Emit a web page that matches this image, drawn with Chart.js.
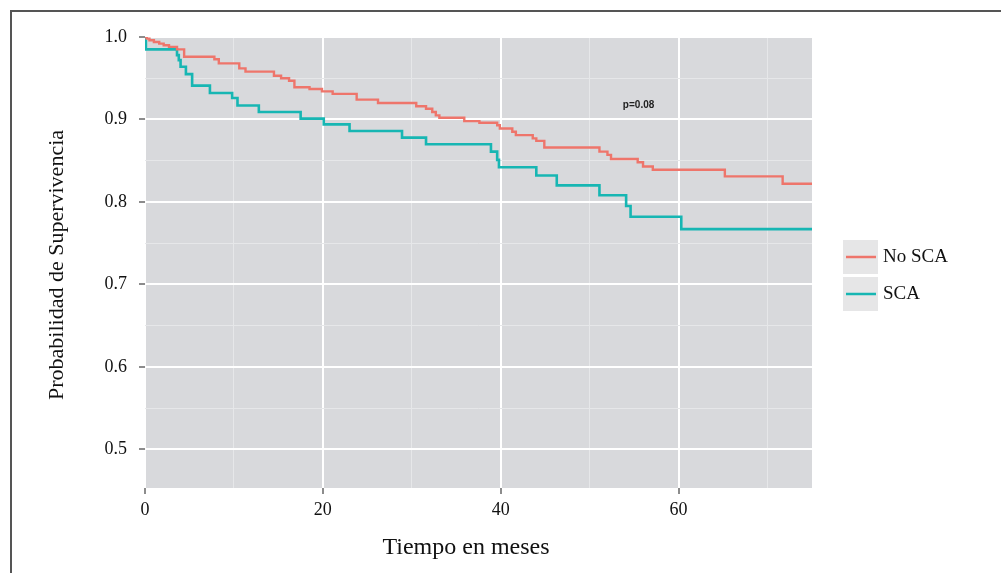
<!DOCTYPE html>
<html><head><meta charset="utf-8">
<script src="https://cdn.jsdelivr.net/npm/chart.js@4"></script>
<style>html,body{margin:0;padding:0;background:#fff}#wrap{width:1001px;height:573px;position:relative}</style>
</head><body><div id="wrap"><canvas id="c" width="1001" height="573"></canvas></div>
<script>
const seriesNames = ['No SCA', 'SCA'];
const seriesColors = ['#EE756B', '#17B6B3'];
const noScaTime = [0, 0.2, 0.5, 1.0, 1.6, 2.1, 2.7, 3.6, 4.4, 7.8, 8.3, 10.6, 11.3, 14.5, 15.3, 16.2, 16.8, 18.5, 19.9, 21.1, 23.8, 26.2, 30.5, 31.6, 32.3, 32.7, 33.1, 35.9, 37.6, 39.6, 39.9, 41.3, 41.7, 43.6, 44.0, 44.9, 51.1, 52.0, 52.4, 55.4, 56.0, 57.1, 65.2, 71.7, 75];
const noScaSurv = [1.0, 0.998, 0.996, 0.994, 0.992, 0.990, 0.988, 0.985, 0.976, 0.973, 0.968, 0.962, 0.958, 0.953, 0.950, 0.947, 0.939, 0.937, 0.934, 0.931, 0.924, 0.920, 0.916, 0.913, 0.909, 0.905, 0.902, 0.898, 0.896, 0.893, 0.889, 0.885, 0.881, 0.877, 0.874, 0.866, 0.861, 0.857, 0.852, 0.848, 0.843, 0.839, 0.831, 0.822, 0.822];
const scaTime = [0, 0.05, 0.1, 3.6, 3.8, 4.0, 4.6, 5.3, 7.3, 9.8, 10.4, 12.8, 17.5, 20.1, 23.0, 28.9, 31.6, 38.9, 39.6, 39.8, 44.0, 46.3, 51.1, 54.1, 54.6, 60.3, 75];
const scaSurv = [1.0, 0.995, 0.985, 0.978, 0.972, 0.964, 0.955, 0.941, 0.932, 0.926, 0.917, 0.909, 0.901, 0.894, 0.886, 0.878, 0.870, 0.861, 0.851, 0.842, 0.832, 0.820, 0.808, 0.795, 0.782, 0.767, 0.767];
const xTickLabels = ['0', '20', '40', '60'];
const yTickLabels = ['0.5', '0.6', '0.7', '0.8', '0.9', '1.0'];
const xTitle = 'Tiempo en meses';
const yTitle = 'Probabilidad de Supervivencia';
const pValueText = 'p=0.08';

const serif = "'Liberation Serif', 'Times New Roman', serif";
Chart.defaults.font.family = serif;

function toPts(t, s) { return t.map((v, i) => ({x: v, y: s[i]})); }
function isMajorX(v) { return xTickLabels.includes(String(Math.round(v))) && Math.abs(v - Math.round(v)) < 1e-6; }
function isMajorY(v) { return yTickLabels.includes(v.toFixed(1)) && Math.abs(v * 10 - Math.round(v * 10)) < 1e-6; }

const deco = {
  id: 'deco',
  beforeDraw(chart) {
    const {ctx, chartArea: a} = chart;
    ctx.save();
    ctx.fillStyle = '#D8D9DC';
    ctx.fillRect(a.left, a.top, a.right - a.left, a.bottom - a.top);
    ctx.restore();
  },
  afterDraw(chart) {
    const {ctx, scales} = chart;
    ctx.save();
    // frame
    ctx.fillStyle = '#555';
    ctx.fillRect(10, 10, 991, 2);
    ctx.fillRect(10, 10, 2, 563);
    // axis titles
    ctx.fillStyle = '#111';
    ctx.textAlign = 'center';
    ctx.textBaseline = 'middle';
    ctx.font = '24px ' + serif;
    ctx.fillText(xTitle, 466, 548);
    ctx.save();
    ctx.translate(57, 265);
    ctx.rotate(-Math.PI / 2);
    ctx.font = '22px ' + serif;
    ctx.fillText(yTitle, 0, 0);
    ctx.restore();
    // p value
    ctx.font = 'bold 10px "Liberation Sans", Arial, sans-serif';
    ctx.fillStyle = '#222';
    ctx.fillText(pValueText, scales.x.getPixelForValue(55.5), scales.y.getPixelForValue(0.917));
    // legend
    const keys = [[240, 274], [277, 311]];
    seriesNames.forEach((n, i) => {
      const [t, b] = keys[i];
      ctx.fillStyle = '#E6E6E7';
      ctx.fillRect(843, t, 35, b - t);
      ctx.strokeStyle = seriesColors[i];
      ctx.lineWidth = 2.5;
      ctx.beginPath();
      ctx.moveTo(846, (t + b) / 2);
      ctx.lineTo(876, (t + b) / 2);
      ctx.stroke();
      ctx.fillStyle = '#111';
      ctx.textAlign = 'left';
      ctx.font = '19px ' + serif;
      ctx.fillText(n, 883, (t + b) / 2);
    });
    ctx.restore();
  }
};

new Chart(document.getElementById('c'), {
  type: 'line',
  data: {
    datasets: [
      {label: seriesNames[0], data: toPts(noScaTime, noScaSurv), borderColor: seriesColors[0], borderWidth: 2.4, stepped: 'before', pointRadius: 0, fill: false},
      {label: seriesNames[1], data: toPts(scaTime, scaSurv), borderColor: seriesColors[1], borderWidth: 2.6, stepped: 'before', pointRadius: 0, fill: false}
    ]
  },
  options: {
    responsive: false,
    animation: false,
    layout: {padding: {top: 37, right: 189, left: 0, bottom: 0}},
    plugins: {legend: {display: false}, tooltip: {enabled: false}},
    scales: {
      x: {
        type: 'linear', min: 0, max: 75,
        afterFit(s) { s.height = 85; },
        border: {display: false},
        grid: {
          color: c => isMajorX(c.tick.value) ? '#FFFFFF' : '#E6E7E9',
          lineWidth: c => isMajorX(c.tick.value) ? 2 : 1,
          tickColor: c => isMajorX(c.tick.value) ? '#666' : 'rgba(0,0,0,0)',
          tickWidth: 1.5, tickLength: 6
        },
        ticks: {stepSize: 10, includeBounds: false, autoSkip: false, maxRotation: 0, padding: 5, color: '#111', font: {size: 18, family: serif},
          callback: v => isMajorX(v) ? String(Math.round(v)) : ''}
      },
      y: {
        type: 'linear', min: 0.453, max: 1.0,
        afterFit(s) { s.width = 145; },
        border: {display: false},
        grid: {
          color: c => isMajorY(c.tick.value) ? '#FFFFFF' : '#E6E7E9',
          lineWidth: c => isMajorY(c.tick.value) ? 2 : 1,
          tickColor: c => isMajorY(c.tick.value) ? '#666' : 'rgba(0,0,0,0)',
          tickWidth: 1.5, tickLength: 6
        },
        ticks: {stepSize: 0.05, includeBounds: false, autoSkip: false, padding: 12, color: '#111', font: {size: 18, family: serif},
          callback: v => isMajorY(v) ? v.toFixed(1) : ''}
      }
    }
  },
  plugins: [deco]
});
</script></body></html>
